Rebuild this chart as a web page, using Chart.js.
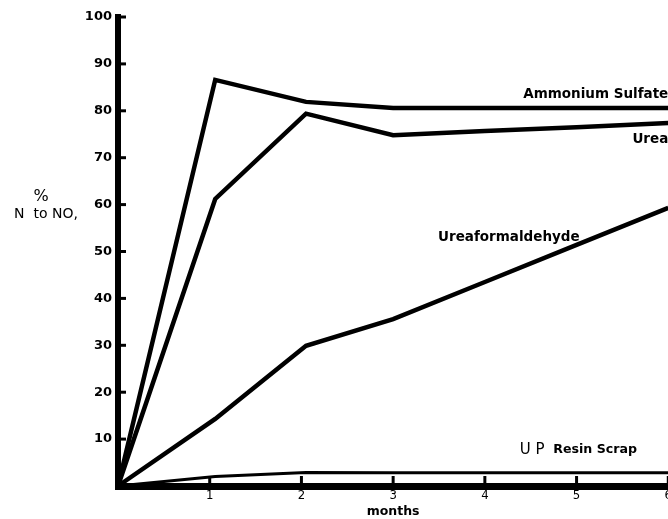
<!DOCTYPE html>
<html>
<head>
<meta charset="utf-8">
<script src="https://cdn.jsdelivr.net/npm/chart.js@4.4.1/dist/chart.umd.min.js"></script>
<style>
  html, body { margin: 0; padding: 0; background: #fff; overflow: hidden; }
  #wrap { position: relative; width: 674px; height: 519px; }
</style>
</head>
<body>
<div id="wrap"><canvas id="chart" width="674" height="519"></canvas></div>
<script>
// months after application, as sampled
const sampleMonths = [0, 1.06, 2.05, 3, 4, 5, 6];
const ammoniumSulfate = [0, 86.6, 81.9, 80.6, 80.6, 80.6, 80.6];
const urea = [0, 61.2, 79.4, 74.8, 75.7, 76.5, 77.4];
const ureaformaldehyde = [0, 14.3, 29.9, 35.6, 43.5, 51.4, 59.3];
const upResinScrap = [0, 2.0, 2.9, 2.8, 2.8, 2.8, 2.8];

const xTicks = [1, 2, 3, 4, 5, 6];
const yTicks = [10, 20, 30, 40, 50, 60, 70, 80, 90, 100];

// labels placed next to the curves, in data units
const seriesLabels = [
  { text: 'Ammonium Sulfate', x: 6, y: 83.4, align: 'right' },
  { text: 'Urea', x: 6, y: 73.8, align: 'right' },
  { text: 'Ureaformaldehyde', x: 3.49, y: 53, align: 'left' },
];

const boldFont = '"DejaVu Sans", sans-serif';

function pts(ys) {
  return ys.map((y, i) => ({ x: sampleMonths[i], y }));
}

function serie(label, ys, width) {
  return {
    label,
    data: pts(ys),
    borderColor: '#000',
    borderWidth: width,
    pointRadius: 0,
    tension: 0,
    fill: false,
    clip: false
  };
}

const decoraciones = {
  id: 'decoraciones',
  afterDraw(chart) {
    const { ctx, scales: { x, y } } = chart;
    ctx.save();
    ctx.fillStyle = '#000';
    ctx.strokeStyle = '#000';

    // tick marks pointing into the plot
    ctx.lineWidth = 3;
    yTicks.forEach(v => {
      const py = y.getPixelForValue(v);
      ctx.beginPath();
      ctx.moveTo(x.left, py);
      ctx.lineTo(x.left + 8, py);
      ctx.stroke();
    });
    xTicks.forEach(v => {
      const px = x.getPixelForValue(v);
      ctx.beginPath();
      ctx.moveTo(px, y.bottom);
      ctx.lineTo(px, y.bottom - 10);
      ctx.stroke();
    });

    // curve names
    ctx.font = 'bold 13.5px ' + boldFont;
    ctx.textBaseline = 'middle';
    seriesLabels.forEach(l => {
      ctx.textAlign = l.align;
      ctx.fillText(l.text, x.getPixelForValue(l.x), y.getPixelForValue(l.y));
    });

    // UP Resin Scrap: "UP" plain, rest bold
    const rx = x.getPixelForValue(4.38);
    const ry = y.getPixelForValue(7.7);
    ctx.textAlign = 'left';
    ctx.font = '15px "DejaVu Sans", sans-serif';
    ctx.fillText('U P', rx, ry);
    const w = ctx.measureText('U P ').width;
    ctx.font = 'bold 12.6px ' + boldFont;
    ctx.fillText('Resin Scrap', rx + w + 4, ry);

    // y axis title
    ctx.font = '16px "DejaVu Sans", sans-serif';
    ctx.textAlign = 'center';
    ctx.fillText('%', 41, 197);
    ctx.font = '14px "DejaVu Sans", sans-serif';
    ctx.fillText('N  to NO,', 46, 214);

    ctx.restore();
  }
};

new Chart(document.getElementById('chart'), {
  type: 'line',
  data: {
    datasets: [
      serie('Ammonium Sulfate', ammoniumSulfate, 4.5),
      serie('Urea', urea, 4.5),
      serie('Ureaformaldehyde', ureaformaldehyde, 4.5),
      serie('UP Resin Scrap', upResinScrap, 3)
    ]
  },
  options: {
    responsive: false,
    animation: false,
    layout: { padding: { top: 17, right: 0, left: 0, bottom: 0 } },
    plugins: { legend: { display: false }, tooltip: { enabled: false } },
    scales: {
      x: {
        type: 'linear',
        min: 0,
        max: 6,
        afterBuildTicks: s => { s.ticks = xTicks.map(v => ({ value: v })); },
        ticks: {
          color: '#000',
          padding: 2,
          font: { family: '"Liberation Sans Narrow", "DejaVu Sans Condensed", sans-serif', size: 13 }
        },
        grid: { display: false, drawTicks: false },
        border: { display: true, color: '#000', width: 7 },
        title: {
          display: true,
          text: 'months',
          color: '#000',
          padding: { top: 0, bottom: 0 },
          font: { family: boldFont, size: 12.5, weight: 'bold' }
        },
        afterFit: s => { s.height = 33; }
      },
      y: {
        min: 0,
        max: 100,
        afterBuildTicks: s => { s.ticks = yTicks.map(v => ({ value: v })); },
        ticks: {
          color: '#000',
          padding: 6,
          font: { family: boldFont, size: 13, weight: 'bold' }
        },
        grid: { display: false, drawTicks: false },
        border: { display: true, color: '#000', width: 6 },
        afterFit: s => { s.width = 118; }
      }
    }
  },
  plugins: [decoraciones]
});
</script>
</body>
</html>
